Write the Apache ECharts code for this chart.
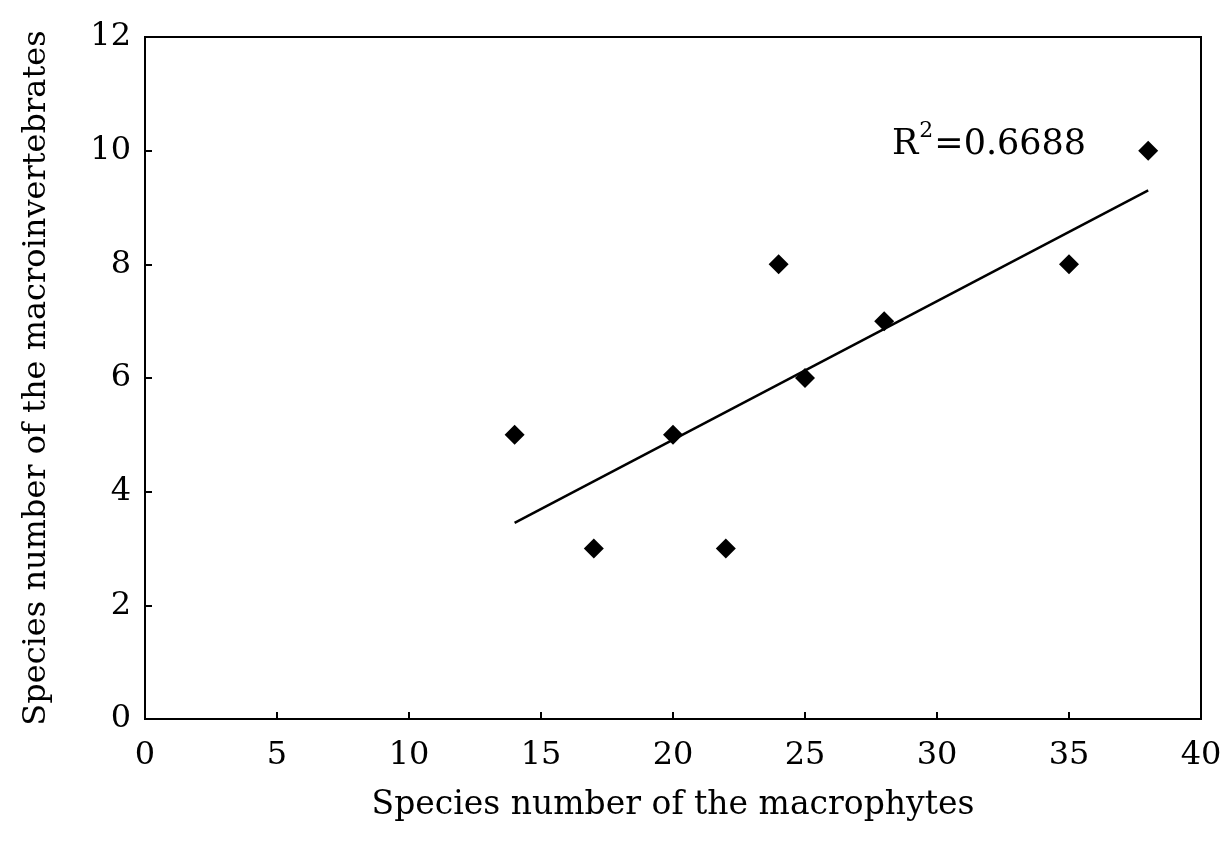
<!DOCTYPE html>
<html lang="en">
<head>
    <meta charset="utf-8">
    <title>Macrophytes vs macroinvertebrates</title>
    <script src="https://cdn.jsdelivr.net/npm/echarts@6/dist/echarts.min.js"></script>
</head>
<body style="margin: 0">
<div id="container" style="height: 857px; width: 1229px"></div>
<script type="text/javascript">
    // species counts
    var macrophytes = [14, 17, 20, 22, 24, 25, 28, 35, 38];
    var macroinvertebrates = [5, 3, 5, 3, 8, 6, 7, 8, 10];
    // ends of the fitted line as drawn
    var trendX = [14, 38];
    var trendY = [3.45, 9.3];
    var r2Text = '0.6688';

    var points = macrophytes.map(function (x, i) { return [x, macroinvertebrates[i]]; });
    var trend = trendX.map(function (x, i) { return [x, trendY[i]]; });

    var font = 'DejaVu Serif';
    var dom = document.getElementById('container');
    var myChart = echarts.init(dom);
    var option = {
        backgroundColor: '#fff',
        textStyle: {fontFamily: font},
        grid: {left: 145, right: 28, top: 37, bottom: 138, show: true, borderColor: '#000', borderWidth: 2},
        xAxis: {
            type: 'value', min: 0, max: 40, interval: 5,
            name: 'Species number of the macrophytes',
            nameLocation: 'middle', nameGap: 70,
            nameTextStyle: {fontFamily: font, fontSize: 33, color: '#000'},
            axisLine: {lineStyle: {color: '#000', width: 2}},
            axisTick: {inside: true, length: 7, lineStyle: {color: '#000', width: 2}},
            axisLabel: {fontFamily: font, fontSize: 32, color: '#000', margin: 21},
            splitLine: {show: false}
        },
        yAxis: {
            type: 'value', min: 0, max: 12, interval: 2,
            name: 'Species number of the macroinvertebrates',
            nameLocation: 'middle', nameGap: 92,
            nameTextStyle: {fontFamily: font, fontSize: 32, color: '#000'},
            axisLine: {lineStyle: {color: '#000', width: 2}},
            axisTick: {inside: true, length: 7, lineStyle: {color: '#000', width: 2}},
            axisLabel: {fontFamily: font, fontSize: 32, color: '#000', margin: 14},
            splitLine: {show: false}
        },
        graphic: [{
            type: 'text', left: 892, top: 120,
            style: {
                text: '{b|R}{s|2}{b|=' + r2Text + '}',
                rich: {
                    b: {fontFamily: font, fontSize: 35, fill: '#000', lineHeight: 42, verticalAlign: 'bottom'},
                    s: {fontFamily: font, fontSize: 22, fill: '#000', verticalAlign: 'top', padding: [0, 1, 15, 1]}
                }
            }
        }],
        series: [
            {
                type: 'line', data: trend, symbol: 'none', silent: true,
                lineStyle: {color: '#000', width: 2.5}
            },
            {
                type: 'scatter', data: points, symbol: 'diamond', symbolSize: 20,
                itemStyle: {color: '#000', opacity: 1}
            }
        ]
    };
    myChart.setOption(option);
</script>
</body>
</html>
